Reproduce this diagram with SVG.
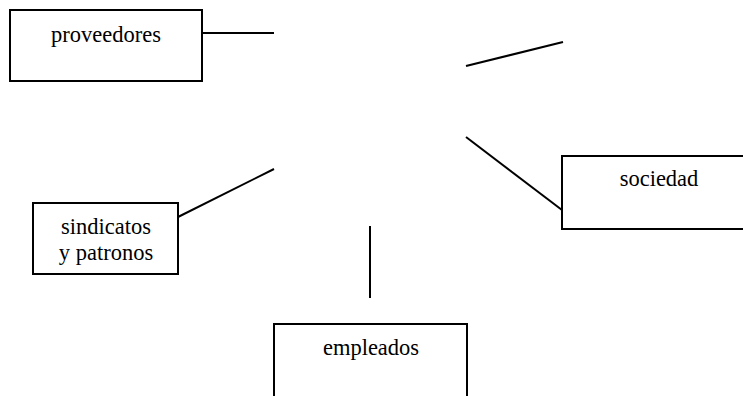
<svg xmlns="http://www.w3.org/2000/svg" width="743" height="396" viewBox="0 0 743 396">
<style>
.box{fill:#fff;stroke:#000;stroke-width:2}
.lbl{font-family:"Liberation Serif","Times New Roman",serif;font-size:22.5px;fill:#000;text-anchor:middle}
.con line{stroke:#000;stroke-width:2}
</style>
<rect width="743" height="396" fill="#fff"/>
<g id="connectors" class="con">
<line x1="202" y1="33" x2="274" y2="33"/>
<line x1="466" y1="66" x2="563" y2="42"/>
<line x1="466" y1="137" x2="562" y2="210"/>
<line x1="178" y1="217" x2="274" y2="169"/>
<line x1="370" y1="226" x2="370" y2="298"/>
</g>
<g id="proveedores">
<rect class="box" x="10" y="10" width="192" height="71"/>
<text class="lbl" x="106" y="42">proveedores</text>
</g>
<g id="sociedad">
<rect class="box" x="562" y="156" width="190" height="73"/>
<text class="lbl" x="659" y="186">sociedad</text>
</g>
<g id="sindicatos">
<rect class="box" x="33" y="203" width="145" height="71"/>
<text class="lbl" x="106" y="234">sindicatos</text>
<text class="lbl" x="106" y="260">y patronos</text>
</g>
<g id="empleados">
<rect class="box" x="274" y="324" width="193" height="80"/>
<text class="lbl" x="371" y="355">empleados</text>
</g>
</svg>
